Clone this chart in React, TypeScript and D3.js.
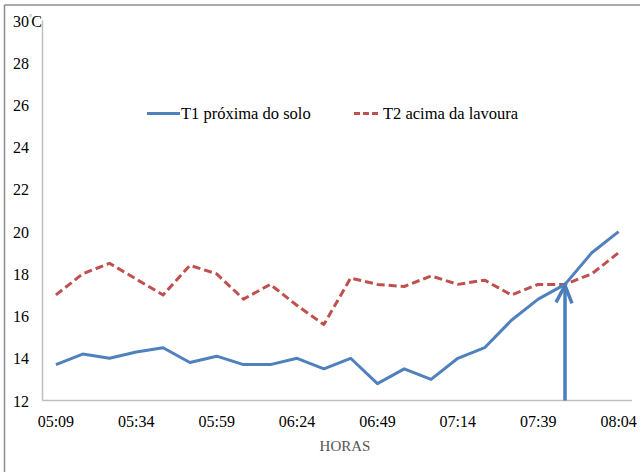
import React from "react";
import * as d3 from "d3";

const categories = [
  "05:09", "05:17", "05:26", "05:34", "05:42", "05:51", "05:59", "06:07",
  "06:16", "06:24", "06:32", "06:41", "06:49", "06:57", "07:06", "07:14",
  "07:22", "07:31", "07:39", "07:47", "07:56", "08:04",
];
const t1Values = [
  13.7, 14.2, 14.0, 14.3, 14.5, 13.8, 14.1, 13.7, 13.7, 14.0, 13.5, 14.0,
  12.8, 13.5, 13.0, 14.0, 14.5, 15.8, 16.8, 17.5, 19.0, 20.0,
];
const t2Values = [
  17.0, 18.0, 18.5, 17.75, 17.0, 18.4, 18.0, 16.8, 17.5, 16.5, 15.6, 17.8,
  17.5, 17.4, 17.9, 17.5, 17.7, 17.0, 17.5, 17.5, 18.0, 19.0,
];
const yTicks = [12, 14, 16, 18, 20, 22, 24, 26, 28, 30];
const xTickLabels = ["05:09", "05:34", "05:59", "06:24", "06:49", "07:14", "07:39", "08:04"];
const seriesNames = ["T1 próxima do solo", "T2 acima da lavoura"];
const arrowCategory = "07:47";

const W = 640;
const H = 472;
const left = 42.5;
const right = 632;
const top = 20.5;
const bottom = 400.5;
const BLUE = "#4F81BD";
const RED = "#C0504D";
const FONT = "'Liberation Serif', 'Times New Roman', serif";

export default function App() {
  const x = d3.scaleBand<string>().domain(categories).range([left, right]);
  const y = d3.scaleLinear().domain([12, 30]).range([bottom, top]);
  const cx = (c: string) => (x(c) as number) + x.bandwidth() / 2;

  const line = d3
    .line<number>()
    .x((_, i) => cx(categories[i]))
    .y((d) => y(d));

  const ai = categories.indexOf(arrowCategory);
  const ax = cx(arrowCategory);
  const ay = y(t2Values[ai]);

  return (
    <svg
      width={W}
      height={H}
      style={{ position: "absolute", left: 0, top: 0, background: "#fff", fontFamily: FONT }}
    >
      <rect x={0} y={0} width={W} height={H} fill="#fff" />
      {/* outer frame */}
      <line x1={4.5} y1={5} x2={W} y2={5} stroke="#8c8c8c" strokeWidth={1.5} />
      <line x1={4.5} y1={5} x2={4.5} y2={H} stroke="#8c8c8c" strokeWidth={1.5} />

      {/* axes */}
      <line x1={left} y1={top} x2={left} y2={bottom} stroke="#bfbfbf" strokeWidth={1.5} />
      <line x1={left} y1={bottom} x2={right} y2={bottom} stroke="#bfbfbf" strokeWidth={1.5} />

      {yTicks.map((t) => (
        <text key={t} x={13} y={y(t) + 6} fontSize={16} fill="#000" style={{ fontFamily: FONT }}>
          {t}
          {t === 30 ? (
            <>
              <tspan fontSize={8} dy={-7} fill="#888">°</tspan>
              <tspan fontSize={16} dy={7} dx={-1}>C</tspan>
            </>
          ) : null}
        </text>
      ))}

      {xTickLabels.map((c) => (
        <text
          key={c}
          x={cx(c)}
          y={427}
          fontSize={16}
          textAnchor="middle"
          fill="#000"
          style={{ fontFamily: FONT }}
        >
          {c}
        </text>
      ))}
      <text x={345} y={451} fontSize={15} textAnchor="middle" fill="#555" style={{ fontFamily: FONT }}>
        HORAS
      </text>

      {/* series */}
      <path
        d={line(t2Values) || ""}
        fill="none"
        stroke={RED}
        strokeWidth={3}
        strokeDasharray="8,4"
        strokeLinejoin="round"
      />
      <path d={line(t1Values) || ""} fill="none" stroke={BLUE} strokeWidth={3} strokeLinejoin="round" />

      {/* arrow */}
      <g stroke="#4A7EBB" strokeWidth={3.5} fill="none" strokeLinecap="butt">
        <line x1={ax} y1={bottom} x2={ax} y2={ay + 1} />
        <polyline points={`${ax - 9},${ay + 18} ${ax},${ay + 1} ${ax + 7},${ay + 19}`} />
      </g>

      {/* legend */}
      <line x1={147} y1={113.5} x2={180} y2={113.5} stroke={BLUE} strokeWidth={3} />
      <text x={181} y={119} fontSize={16.5} fill="#000" style={{ fontFamily: FONT }}>
        {seriesNames[0]}
      </text>
      <line
        x1={354}
        y1={113.5}
        x2={379}
        y2={113.5}
        stroke={RED}
        strokeWidth={3}
        strokeDasharray="6,3"
      />
      <text x={383} y={119} fontSize={16.5} fill="#000" style={{ fontFamily: FONT }}>
        {seriesNames[1]}
      </text>
    </svg>
  );
}
